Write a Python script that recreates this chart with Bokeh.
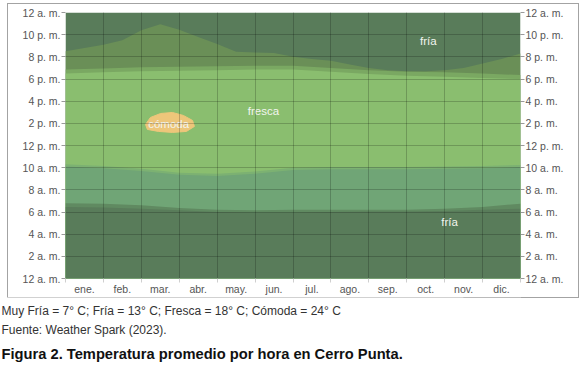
from bokeh.plotting import figure
from bokeh.models import FixedTicker, LinearAxis, Range1d, Label
from bokeh.layouts import column
from bokeh.embed import file_html
from bokeh.resources import INLINE
from bokeh.core.properties import value

# ---------------- data ----------------
meses = ["ene.", "feb.", "mar.", "abr.", "may.", "jun.",
         "jul.", "ago.", "sep.", "oct.", "nov.", "dic."]
mes_centros = [0.5, 1.5, 2.5, 3.5, 4.5, 5.5, 6.5, 7.5, 8.5, 9.5, 10.5, 11.5]
mes_limites = [1, 2, 3, 4, 5, 6, 7, 8, 9, 10, 11]

horas_ticks = [0, 2, 4, 6, 8, 10, 12, 14, 16, 18, 20, 22, 24]
horas_etiquetas = ["12 a. m.", "2 a. m.", "4 a. m.", "6 a. m.", "8 a. m.", "10 a. m.",
                   "12 p. m.", "2 p. m.", "4 p. m.", "6 p. m.", "8 p. m.", "10 p. m.", "12 a. m."]

# month positions (0 = start of Jan, 12 = end of Dec)
x_mes = [0, 1, 2, 3, 4, 5, 6, 7, 8, 9, 10, 11, 12]
x_medio = [0, 0.5, 1, 1.5, 2, 2.5, 3, 3.5, 4, 4.5, 5, 5.5, 6,
           6.5, 7, 7.5, 8, 8.5, 9, 9.5, 10, 10.5, 11, 11.5, 12]

# band boundaries (hour of day)
fria_baja_sup = [6.45, 6.4, 6.3, 6.15, 6.0, 5.95, 5.95, 6.0, 6.05, 6.05, 6.1, 6.2, 6.3]
trans_baja_sup = [6.8, 6.75, 6.6, 6.35, 6.2, 6.15, 6.2, 6.2, 6.2, 6.2, 6.3, 6.45, 6.75]
media_sup = [10.1, 9.95, 9.7, 9.35, 9.25, 9.45, 9.8, 9.85, 9.85, 9.85, 9.9, 9.95, 10.05]
trans_media_sup = [10.3, 10.15, 9.9, 9.55, 9.45, 9.65, 10.0, 10.05, 10.05, 10.05, 10.1, 10.15, 10.25]
fresca_sup = [18.5, 18.6, 18.7, 18.75, 18.8, 18.85, 18.85, 18.65, 18.45, 18.3, 18.2, 18.1, 18.0]
trans_alta_sup = [18.85, 18.95, 19.05, 19.1, 19.15, 19.2, 19.2, 19.0, 18.8, 18.65, 18.6, 18.5, 18.35]
oliva_sup = [20.5, 20.8, 21.1, 21.5, 22.4, 22.95, 22.45, 21.8, 21.15, 20.45, 20.4, 20.35, 20.0,
             19.8, 19.65, 19.3, 19.0, 18.8, 18.7, 18.7, 18.8, 19.0, 19.4, 19.8, 20.3]

# comfortable blob outline
comoda_x = [2.11, 2.24, 2.51, 2.82, 3.11, 3.35, 3.40, 3.19, 2.82, 2.45, 2.16]
comoda_y = [13.90, 14.53, 14.89, 14.98, 14.71, 14.26, 13.72, 13.27, 13.18, 13.27, 13.45]

etiquetas = ["fría", "fresca", "cómoda", "fría"]
etiquetas_x = [9.57, 5.22, 2.72, 10.13]
etiquetas_y = [21.4, 15.07, 13.95, 5.14]

leyenda = "Muy Fría = 7° C; Fría = 13° C; Fresca = 18° C; Cómoda = 24° C"
fuente = "Fuente: Weather Spark (2023)."
titulo = "Figura 2. Temperatura promedio por hora en Cerro Punta."

# ---------------- colours ----------------
C_FRIA = "#597c5a"
C_TRANS1 = "#608a61"
C_MEDIA = "#70a576"
C_TRANS2 = "#7cb172"
C_FRESCA = "#8abe6f"
C_TRANS3 = "#7aa862"
C_OLIVA = "#6a8f57"
C_COMODA = "#edc67a"

FONT = "Liberation Sans"

p = figure(width=570, height=293, x_range=Range1d(0, 12), y_range=Range1d(0, 24),
           output_backend="svg", toolbar_location=None,
           min_border_left=57, min_border_right=58, min_border_top=8, min_border_bottom=19,
           styles={"margin-left": "8px", "margin-top": "4px",
                   "outline": "1px solid #a3a3a3"})
p.outline_line_color = None
p.background_fill_color = "white"

zeros_m = [0] * len(x_mes)
zeros_h = [0] * len(x_medio)
tope = [24] * len(x_mes)

p.varea(x=x_mes, y1=zeros_m, y2=tope, fill_color=C_FRIA)
p.varea(x=x_medio, y1=zeros_h, y2=oliva_sup, fill_color=C_OLIVA)
p.varea(x=x_mes, y1=zeros_m, y2=trans_alta_sup, fill_color=C_TRANS3)
p.varea(x=x_mes, y1=zeros_m, y2=fresca_sup, fill_color=C_FRESCA)
p.varea(x=x_mes, y1=zeros_m, y2=trans_media_sup, fill_color=C_TRANS2)
p.varea(x=x_mes, y1=zeros_m, y2=media_sup, fill_color=C_MEDIA)
p.varea(x=x_mes, y1=zeros_m, y2=trans_baja_sup, fill_color=C_TRANS1)
p.varea(x=x_mes, y1=zeros_m, y2=fria_baja_sup, fill_color=C_FRIA)

p.patch(comoda_x, comoda_y, fill_color=C_COMODA, line_color=C_COMODA, line_width=1)

p.text(x=etiquetas_x, y=etiquetas_y, text=etiquetas, text_align="center",
       text_baseline="middle", text_color="#f2f5ee", text_font=value(FONT),
       text_font_size="11.5px")

# grids over the bands
p.xgrid.ticker = FixedTicker(ticks=mes_limites)
p.ygrid.ticker = FixedTicker(ticks=horas_ticks)
for g in (p.xgrid[0], p.ygrid[0]):
    g.level = "overlay"
    g.grid_line_color = "black"
    g.grid_line_alpha = 0.2
    g.grid_line_width = 1

# x axis
xa = p.xaxis[0]
xa.ticker = FixedTicker(ticks=mes_centros, minor_ticks=list(x_mes))
xa.major_label_overrides = {c: m for c, m in zip(mes_centros, meses)}
xa.major_tick_out = 0
xa.major_tick_in = 0
xa.minor_tick_out = 4
xa.minor_tick_in = 0
xa.minor_tick_line_color = "#cfcfcf"
xa.axis_line_color = None
xa.major_label_standoff = 0
xa.major_label_text_font = FONT
xa.major_label_text_font_size = "10.5px"
xa.major_label_text_color = "#555555"

# y axes
ya = p.yaxis[0]
ra = LinearAxis()
p.add_layout(ra, "right")
for ax in (ya, ra):
    ax.ticker = FixedTicker(ticks=horas_ticks)
    ax.major_label_overrides = {h: t for h, t in zip(horas_ticks, horas_etiquetas)}
    ax.major_tick_out = 4
    ax.major_tick_in = 0
    ax.minor_tick_out = 0
    ax.minor_tick_in = 0
    ax.major_tick_line_color = "#9a9a9a"
    ax.axis_line_color = None
    ax.major_label_standoff = 1
    ax.major_label_text_font = FONT
    ax.major_label_text_font_size = "10.5px"
    ax.major_label_text_color = "#555555"

# caption figure
cap = figure(width=586, height=80, x_range=Range1d(0, 1), y_range=Range1d(0, 1),
             output_backend="svg", toolbar_location=None, min_border=0,
             x_axis_location=None, y_axis_location=None,
             styles={"margin-left": "-57px"})
cap.grid.visible = False
cap.outline_line_color = None
for txt, yy, size, style, col in [(leyenda, 67, "12px", "normal", "#333333"),
                                  (fuente, 48, "12px", "normal", "#333333"),
                                  (titulo, 24, "14.7px", "bold", "#111111")]:
    cap.add_layout(Label(x=1, y=yy, x_units="screen", y_units="screen", text=txt,
                         text_baseline="middle", text_font=FONT, text_font_size=size,
                         text_font_style=style, text_color=col))

layout = column(p, cap)
open("out.html", "w").write(file_html(layout, INLINE))
